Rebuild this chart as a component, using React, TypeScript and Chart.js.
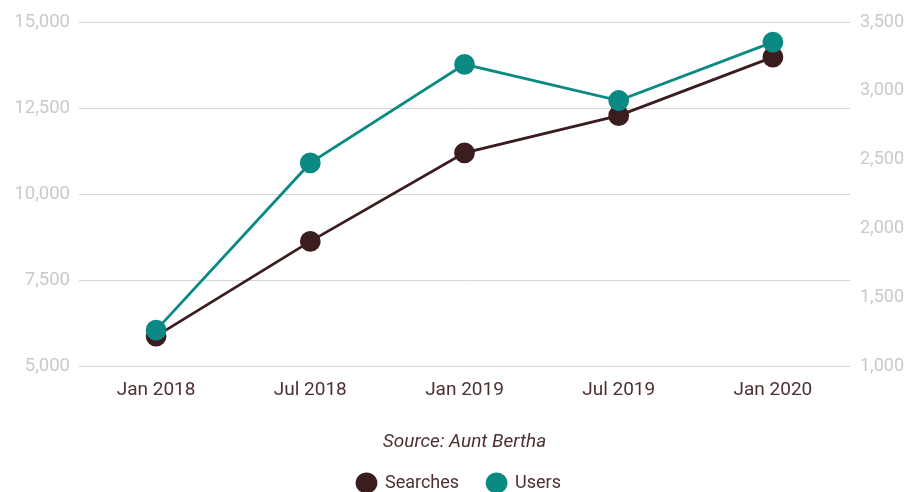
import React, { useEffect, useRef } from "react";
import { Chart, registerables } from "chart.js";

Chart.register(...registerables);

const categories = ["Jan 2018", "Jul 2018", "Jan 2019", "Jul 2019", "Jan 2020"];
const searches = [5880, 8630, 11200, 12280, 13980];
const users = [1263, 2477, 3193, 2930, 3354];
const leftTicks = [5000, 7500, 10000, 12500, 15000];
const rightTicks = [1000, 1500, 2000, 2500, 3000, 3500];
const sourceText = "Source: Aunt Bertha";

const BROWN = "#3b1d1f";
const TEAL = "#0b8a84";
const LABEL = "#4d3032";
const GRAYTXT = "#c9c9c9";

export default function App() {
  const ref = useRef<HTMLCanvasElement | null>(null);
  useEffect(() => {
    if (!ref.current) return;
    const fmt = (v: number) => v.toLocaleString("en-US");
    const chart = new Chart(ref.current, {
      type: "line",
      data: {
        labels: categories,
        datasets: [
          {
            label: "Searches",
            data: searches,
            yAxisID: "y",
            borderColor: BROWN,
            backgroundColor: BROWN,
            pointBackgroundColor: BROWN,
            pointBorderColor: BROWN,
            borderWidth: 2.8,
            pointRadius: 9,
            pointHoverRadius: 9,
            tension: 0,
            order: 1,
          },
          {
            label: "Users",
            data: users,
            yAxisID: "y1",
            borderColor: TEAL,
            backgroundColor: TEAL,
            pointBackgroundColor: TEAL,
            pointBorderColor: TEAL,
            borderWidth: 2.8,
            pointRadius: 9,
            pointHoverRadius: 9,
            tension: 0,
            order: 0,
          },
        ],
      },
      options: {
        animation: false,
        responsive: true,
        maintainAspectRatio: false,
        layout: { padding: { top: 0, left: 0, right: 0, bottom: 0 } },
        scales: {
          x: {
            offset: true,
            grid: { display: false, drawTicks: false },
            border: { display: false },
            ticks: {
              color: LABEL,
              font: { family: "Roboto", size: 19 },
              padding: 12,
            },
            title: {
              display: true,
              text: sourceText,
              color: LABEL,
              font: { family: "Roboto", size: 19, style: "italic" },
              padding: { top: 18, bottom: -8 },
            },
          },
          y: {
            position: "left",
            min: 5000,
            max: 15000,
            afterBuildTicks: (s: any) => {
              s.ticks = leftTicks.map((v) => ({ value: v }));
            },
            afterFit: (s: any) => {
              s.width = 71;
              s.paddingTop = 14;
            },
            grid: { color: "#d6d6d6", lineWidth: 1, drawTicks: false },
            border: { display: false },
            ticks: {
              color: GRAYTXT,
              font: { family: "Roboto", size: 18.5 },
              padding: 9,
              callback: (v: any) => fmt(Number(v)),
            },
          },
          y1: {
            position: "right",
            min: 1000,
            max: 3500,
            afterBuildTicks: (s: any) => {
              s.ticks = rightTicks.map((v) => ({ value: v }));
            },
            afterFit: (s: any) => {
              s.width = 60;
              s.paddingTop = 14;
            },
            grid: { display: false, drawTicks: false },
            border: { display: false },
            ticks: {
              color: GRAYTXT,
              font: { family: "Roboto", size: 18 },
              padding: 10,
              callback: (v: any) => fmt(Number(v)),
            },
          },
        },
        plugins: {
          legend: {
            position: "bottom",
            reverse: true,
            labels: {
              usePointStyle: true,
              pointStyle: "circle",
              boxHeight: 13,
              pointStyleWidth: 19,
              color: LABEL,
              font: { family: "Roboto", size: 18 },
              padding: 28,
            },
          },
          tooltip: { enabled: false },
        },
      },
    });
    return () => chart.destroy();
  }, []);
  return (
    <div style={{ position: "absolute", left: 8, top: 8, width: 902, height: 484, overflow: "hidden" }}>
      <div style={{ position: "relative", width: 902, height: 494 }}>
        <canvas ref={ref} />
      </div>
    </div>
  );
}
